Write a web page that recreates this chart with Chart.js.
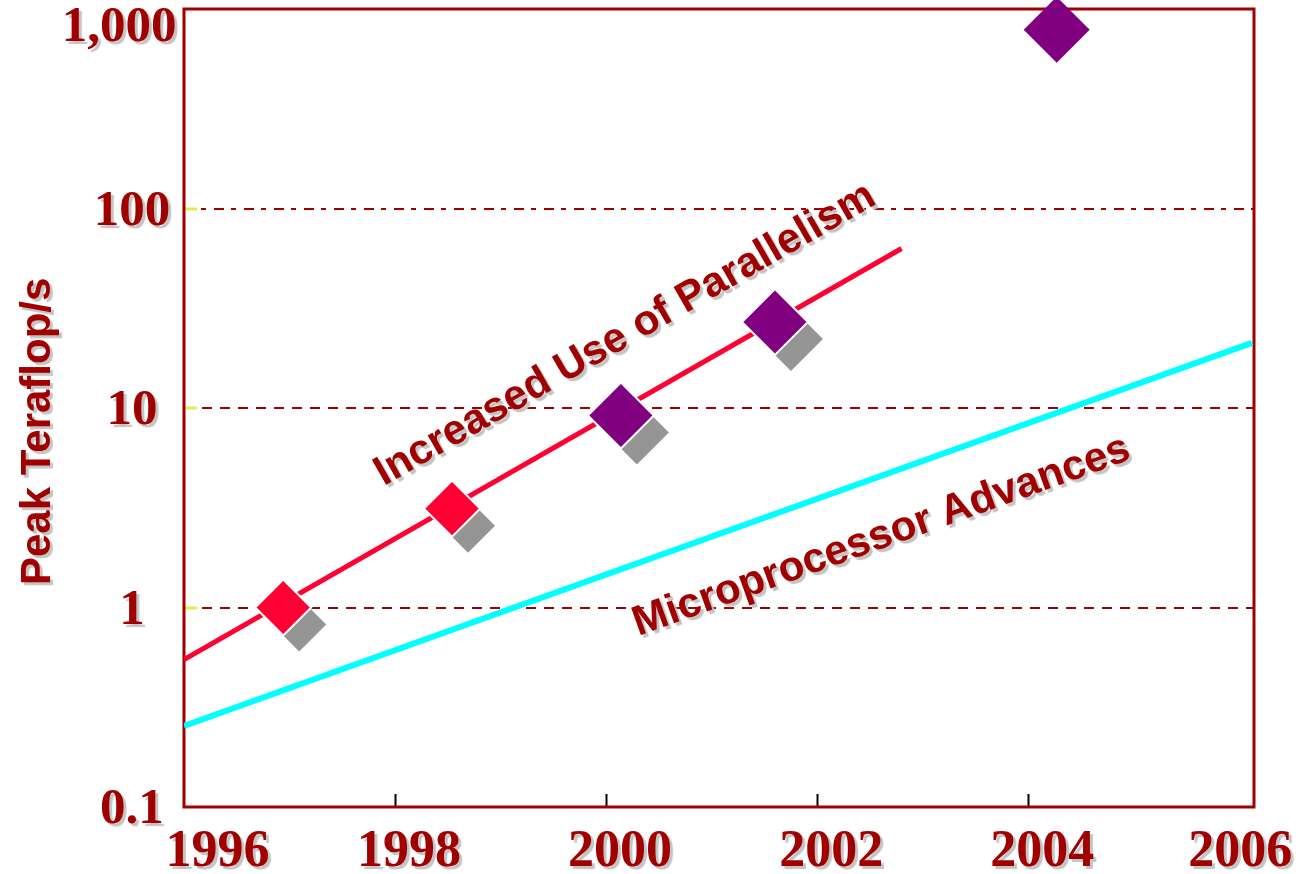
<!DOCTYPE html>
<html>
<head>
<meta charset="utf-8">
<script src="https://cdn.jsdelivr.net/npm/chart.js@4.4.1/dist/chart.umd.min.js"></script>
<style>
  html, body { margin: 0; padding: 0; background: #ffffff; overflow: hidden; }
  canvas { display: block; }
</style>
</head>
<body>
<canvas id="chart" width="1299" height="874"></canvas>
<script>
// Peak performance trends, teraflop/s on a logarithmic axis
const xTickYears = [1996, 1998, 2000, 2002, 2004, 2006];
const xTickLabels = ['1996', '1998', '2000', '2002', '2004', '2006'];
const yTickValues = [0.1, 1, 10, 100, 1000];
const yTickLabels = ['0.1', '1', '10', '100', '1,000'];

// trend lines (end points)
const parallelYears = [1996, 2002.8];
const parallelTflops = [0.548, 63.0];
const microYears = [1996, 2006.12];
const microTflops = [0.255, 21.2];

// individual systems
const redYears = [1996.94, 1998.54];
const redTflops = [1.0, 3.13];
const purpleYears = [2000.14, 2001.60];
const purpleTflops = [9.17, 27.0];
const plannedYears = [2004.27];
const plannedTflops = [787];

// captions laid along the trend lines
const trendLabels = ['Increased Use of Parallelism', 'Microprocessor Advances'];
const trendLabelYears = [2000.18, 2002.61];
const trendLabelTflops = [23.3, 2.27];

const DARK_RED = '#A00000';
const TEXT_SHADOW = '#C4C4C4';
const MARKER_SHADOW = '#959595';
const SERIF = "'Liberation Serif', 'Times New Roman', serif";
const SANS = "'Liberation Sans', Arial, sans-serif";
const NBSP = '\u00a0';
const NONE = 'rgba(0,0,0,0)';
const NO_PADDING = () => ({ left: 0, top: 0, right: 0, bottom: 0 });

const toPoints = (xs, ys) => xs.map((x, i) => ({ x, y: ys[i] }));

function setTextShadow(ctx) {
  ctx.shadowColor = TEXT_SHADOW;
  ctx.shadowOffsetX = 3;
  ctx.shadowOffsetY = 3;
  ctx.shadowBlur = 1;
}

// tick labels and the axis title get a soft drop shadow
const scaleTextShadow = {
  id: 'scaleTextShadow',
  beforeDraw(chart) {
    Object.values(chart.scales).forEach(scale => {
      if (scale.$shadowed) return;
      scale.$shadowed = true;
      ['drawLabels', 'drawTitle'].forEach(name => {
        const base = scale[name];
        scale[name] = function (...args) {
          this.ctx.save();
          setTextShadow(this.ctx);
          base.apply(this, args);
          this.ctx.restore();
        };
      });
    });
  }
};

// box around the plot area
const plotFrame = {
  id: 'plotFrame',
  beforeDatasetsDraw(chart) {
    const { ctx, chartArea: a } = chart;
    ctx.save();
    ctx.strokeStyle = DARK_RED;
    ctx.lineWidth = 3;
    ctx.strokeRect(a.left, a.top, a.right - a.left, a.bottom - a.top);
    ctx.restore();
  }
};

// shadow datasets are painted nudged down and to the right
const shadowNudge = {
  id: 'shadowNudge',
  beforeDatasetDraw(chart, args) {
    if (!chart.data.datasets[args.index].isShadow) return;
    chart.ctx.save();
    chart.ctx.translate(16, 17);
  },
  afterDatasetDraw(chart, args) {
    if (chart.data.datasets[args.index].isShadow) chart.ctx.restore();
  }
};

// captions rotated to follow their trend line
const trendText = {
  id: 'trendText',
  afterDatasetsDraw(chart) {
    const { ctx, scales: { x, y } } = chart;
    trendLabels.forEach((text, i) => {
      const pts = chart.getDatasetMeta(i).data;
      const angle = Math.atan2(pts[1].y - pts[0].y, pts[1].x - pts[0].x);
      ctx.save();
      ctx.translate(x.getPixelForValue(trendLabelYears[i]), y.getPixelForValue(trendLabelTflops[i]));
      ctx.rotate(angle);
      setTextShadow(ctx);
      ctx.font = `bold 42px ${SANS}`;
      ctx.fillStyle = DARK_RED;
      ctx.textAlign = 'center';
      ctx.textBaseline = 'middle';
      ctx.fillText(text, 0, 0);
      ctx.restore();
    });
  }
};

const isEdge = (c, values) => c.tick && (c.tick.value === values[0] || c.tick.value === values[values.length - 1]);

const diamonds = (years, tflops, radius, color, extra) => Object.assign({
  data: toPoints(years, tflops),
  pointStyle: 'rectRot',
  pointRadius: radius,
  pointBackgroundColor: color,
  pointBorderColor: '#FFFFFF',
  pointBorderWidth: 2,
  clip: false,
  order: 1
}, extra || {});

new Chart(document.getElementById('chart'), {
  type: 'scatter',
  data: {
    datasets: [
      {
        label: 'Increased Use of Parallelism',
        data: toPoints(parallelYears, parallelTflops),
        showLine: true, borderColor: '#FF0033', borderWidth: 5,
        pointRadius: 0, order: 3
      },
      {
        label: 'Microprocessor Advances',
        data: toPoints(microYears, microTflops),
        showLine: true, borderColor: '#00FFFF', borderWidth: 6,
        pointRadius: 0, order: 3
      },
      diamonds(redYears, redTflops, 27, MARKER_SHADOW, { pointBorderWidth: 0, isShadow: true, order: 2 }),
      diamonds(purpleYears, purpleTflops, 32, MARKER_SHADOW, { pointBorderWidth: 0, isShadow: true, order: 2 }),
      diamonds(redYears, redTflops, 28, '#FF0033'),
      diamonds(purpleYears, purpleTflops, 33, '#800080'),
      diamonds(plannedYears, plannedTflops, 33, '#800080', { pointBorderWidth: 0 })
    ]
  },
  options: {
    responsive: false,
    animation: false,
    devicePixelRatio: 1,
    events: [],
    layout: { autoPadding: false, padding: { top: 9, right: 45, bottom: 0, left: 0 } },
    plugins: { legend: { display: false }, tooltip: { enabled: false } },
    scales: {
      x: {
        type: 'linear',
        min: 1996,
        max: 2006.14,
        afterBuildTicks: s => { s.ticks = xTickYears.map(v => ({ value: v })); },
        afterFit: s => {
          s.height = 67;
          s.paddingLeft = s.paddingRight = s.paddingTop = s.paddingBottom = 0;
          s.getPadding = NO_PADDING;
        },
        grid: {
          drawOnChartArea: false,
          drawTicks: true,
          tickLength: -13,
          tickWidth: 2,
          tickColor: c => isEdge(c, xTickYears) ? NONE : '#000000'
        },
        border: { display: false },
        ticks: {
          autoSkip: false,
          maxRotation: 0,
          padding: 27,
          labelOffset: 14,
          color: DARK_RED,
          font: { family: SERIF, size: 52, weight: 'bold' },
          callback: v => {
            const i = xTickYears.indexOf(v);
            const label = xTickLabels[i];
            if (i === 0) return NBSP.repeat(3) + label;
            if (i === xTickYears.length - 1) return label + NBSP.repeat(2);
            return label;
          }
        }
      },
      y: {
        type: 'logarithmic',
        min: 0.1,
        max: 1000,
        afterBuildTicks: s => { s.ticks = yTickValues.map(v => ({ value: v })); },
        afterFit: s => {
          s.width = 184;
          s.paddingLeft = s.paddingRight = s.paddingTop = s.paddingBottom = 0;
          s.getPadding = NO_PADDING;
        },
        grid: {
          color: c => isEdge(c, yTickValues) ? NONE : DARK_RED,
          lineWidth: 2,
          tickLength: -13,
          tickWidth: 3,
          tickColor: c => isEdge(c, yTickValues) ? NONE : '#E4EE48'
        },
        border: {
          display: false,
          dash: c => (c.tick && c.tick.value === 100) ? [10, 7, 5, 8] : [10, 8]
        },
        ticks: {
          padding: -5,
          crossAlign: 'center',
          labelOffset: 3,
          color: DARK_RED,
          font: c => ({
            family: SERIF, size: 51, weight: 'bold',
            lineHeight: (c.tick && c.tick.value === 1000) ? 0.63 : 1.2
          }),
          callback: v => {
            const i = yTickValues.indexOf(v);
            if (i < 0) return '';
            const label = yTickLabels[i];
            return i === yTickValues.length - 1 ? ['', label + NBSP + NBSP] : label;
          }
        },
        title: {
          display: true,
          text: 'Peak Teraflop/s' + NBSP.repeat(4),
          color: DARK_RED,
          font: { family: SANS, size: 42, weight: 'bold' },
          padding: { top: 13, bottom: 0 }
        }
      }
    }
  },
  plugins: [scaleTextShadow, plotFrame, shadowNudge, trendText]
});
</script>
</body>
</html>
